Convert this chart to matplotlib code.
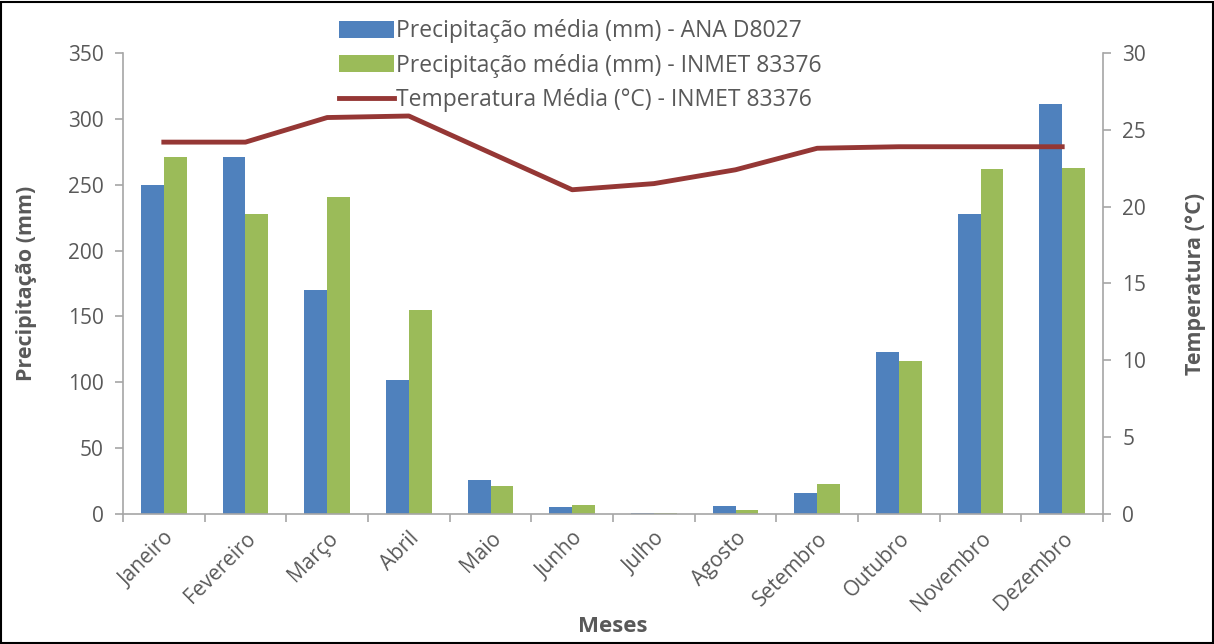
import numpy as np
import matplotlib.pyplot as plt
from matplotlib.patches import Rectangle

plt.rcParams["font.family"] = ["Open Sans", "DejaVu Sans"]

# ====== 資料 ======
meses = ["Janeiro", "Fevereiro", "Março", "Abril", "Maio", "Junho",
         "Julho", "Agosto", "Setembro", "Outubro", "Novembro", "Dezembro"]
prec_ana = [250, 271, 170, 102, 26, 5, 1, 6, 16, 123, 228, 311]
prec_inmet = [271, 228, 241, 155, 21, 7, 1, 3, 23, 116, 262, 263]
temp_inmet = [24.2, 24.2, 25.8, 25.9, 23.5, 21.1, 21.5, 22.4, 23.8, 23.9, 23.9, 23.9]

cor_azul = "#4F81BD"
cor_verde = "#9BBB59"
cor_linha = "#953735"
cor_texto = "#595959"
cor_eixo = "#A6A6A6"

fig = plt.figure(figsize=(12.14, 6.44), dpi=100)
ax = fig.add_axes([0.1013, 0.2019, 0.8073, 0.7158])
ax2 = ax.twinx()

x = np.arange(len(meses))
w = 0.28
ax.bar(x - w / 2, prec_ana, w, color=cor_azul, label="Precipitação média (mm) - ANA D8027")
ax.bar(x + w / 2, prec_inmet, w, color=cor_verde, label="Precipitação média (mm) - INMET 83376")
ax2.plot(x, temp_inmet, color=cor_linha, lw=3.5, label="Temperatura Média (°C) - INMET 83376")

ax.set_xlim(-0.5, len(meses) - 0.5)
ax.set_ylim(0, 350)
ax.set_yticks(np.arange(0, 351, 50))
ax2.set_ylim(0, 30)
ax2.set_yticks(np.arange(0, 31, 5))

# x: rótulos no centro, marcas nas divisas
ax.set_xticks(x)
ax.set_xticklabels(meses, rotation=45, ha="right", rotation_mode="anchor")
ax.set_xticks(np.arange(-0.5, len(meses)), minor=True)
ax.tick_params(axis="x", which="major", length=0, pad=10)
ax.tick_params(axis="x", which="minor", length=6, color=cor_eixo, width=1.2)

for a in (ax, ax2):
    a.tick_params(axis="y", length=6, color=cor_eixo, width=1.2, labelsize=15, labelcolor=cor_texto, pad=8)
    for s in a.spines.values():
        s.set_visible(False)
ax.tick_params(axis="x", labelsize=15, labelcolor=cor_texto)
ax.spines["left"].set_visible(True)
ax.spines["bottom"].set_visible(True)
ax2.spines["right"].set_visible(True)
for s in (ax.spines["left"], ax.spines["bottom"], ax2.spines["right"]):
    s.set_color(cor_eixo)
    s.set_linewidth(1.2)

ax.set_ylabel("Precipitação (mm)", fontsize=15.5, fontweight="bold", color=cor_texto, labelpad=22)
ax2.set_ylabel("Temperatura (°C)", fontsize=15.5, fontweight="bold", color=cor_texto, labelpad=28)
ax.set_xlabel("Meses", fontsize=16, fontweight="bold", color=cor_texto, labelpad=0)

h1, l1 = ax.get_legend_handles_labels()
h2, l2 = ax2.get_legend_handles_labels()
leg = fig.legend(h1 + h2, l1 + l2, loc="upper center", bbox_to_anchor=(0.478, 1.002),
                 frameon=False, fontsize=16.5, handlelength=2.4, handleheight=0.8,
                 handletextpad=0.1, labelspacing=0.45)
for t in leg.get_texts():
    t.set_color(cor_texto)

# moldura da figura
fig.patches.append(Rectangle((0.001, 0.001), 0.998, 0.996, transform=fig.transFigure,
                             fill=False, edgecolor="black", lw=1.5))

fig.savefig("out.png", dpi=100)
